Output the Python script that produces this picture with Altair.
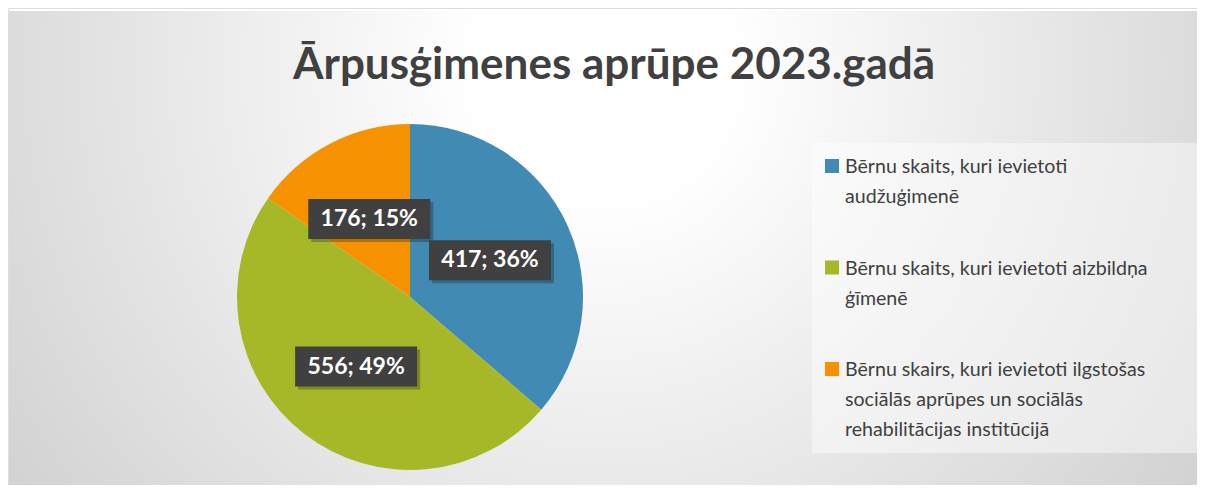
import math
import altair as alt
import pandas as pd

# ---- data ----
categories = [
    "Bērnu skaits, kuri ievietoti audžuģimenē",
    "Bērnu skaits, kuri ievietoti aizbildņa ģīmenē",
    "Bērnu skairs, kuri ievietoti ilgstošas sociālās aprūpes un sociālās rehabilitācijas institūcijā",
]
legend_lines = [
    ["Bērnu skaits, kuri ievietoti", "audžuģimenē"],
    ["Bērnu skaits, kuri ievietoti aizbildņa", "ģīmenē"],
    ["Bērnu skairs, kuri ievietoti ilgstošas", "sociālās aprūpes un sociālās", "rehabilitācijas institūcijā"],
]
values = [417, 556, 176]
percents = [36, 49, 15]
colors = ["#418AB3", "#A6B727", "#F69200"]
title_text = "Ārpusģimenes aprūpe 2023.gadā"

# ---- layout (chart coordinates = page - 8) ----
W, H = 1189, 477
CX, CY, R = 402, 289, 173
LABEL_R = 88
BOX_W, BOX_H = 122, 40

df = pd.DataFrame({"cat": categories, "value": values, "pct": percents, "idx": range(len(values))})
total = sum(values)
cum = 0.0
lx, ly = [], []
for v in values:
    mid = (cum + v / 2) / total * 2 * math.pi
    cum += v
    lx.append(CX + LABEL_R * math.sin(mid))
    ly.append(CY - LABEL_R * math.cos(mid))
df["lx"] = lx
df["ly"] = ly
df["bx1"] = df["lx"] - BOX_W / 2
df["bx2"] = df["lx"] + BOX_W / 2
df["by1"] = df["ly"] - BOX_H / 2
df["by2"] = df["ly"] + BOX_H / 2
df["sx1"] = df["bx1"] + 3
df["sx2"] = df["bx2"] + 3
df["sy1"] = df["by1"] + 3
df["sy2"] = df["by2"] + 3
df["label"] = [f"{v}; {p}%" for v, p in zip(values, percents)]

leg = pd.DataFrame({"cat": categories, "lines": legend_lines, "idx": range(len(values))})

color_scale = alt.Scale(domain=categories, range=colors)

bg = alt.Chart(pd.DataFrame({"a": [0]})).mark_rect(
    color=alt.Gradient(
        gradient="radial",
        x1=0.5, y1=0.35, r1=0.0,
        x2=0.5, y2=0.35, r2=0.72,
        stops=[alt.GradientStop(color="#ffffff", offset=0),
               alt.GradientStop(color="#ffffff", offset=0.15),
               alt.GradientStop(color="#c8c8c8", offset=1)],
    ),
).encode(x=alt.value(1), x2=alt.value(W), y=alt.value(3), y2=alt.value(H))

title = alt.Chart(pd.DataFrame({"t": [title_text]})).mark_text(
    font="Lato", fontWeight="bold", fontSize=44, color="#404040", baseline="middle", align="center"
).encode(x=alt.value(606), y=alt.value(58), text="t:N")

pie = alt.Chart(df).mark_arc(radius=R).encode(
    theta=alt.Theta("value:Q", stack=True),
    color=alt.Color("cat:N", scale=color_scale, legend=None),
    order=alt.Order("idx:Q"),
    x=alt.value(CX), y=alt.value(CY),
)

shadow = alt.Chart(df).mark_rect(color="#000000", opacity=0.25).encode(
    x=alt.X("sx1:Q", scale=None), x2="sx2:Q", y=alt.Y("sy1:Q", scale=None), y2="sy2:Q"
)
boxes = alt.Chart(df).mark_rect(color="#404040").encode(
    x=alt.X("bx1:Q", scale=None), x2="bx2:Q", y=alt.Y("by1:Q", scale=None), y2="by2:Q"
)
labels = alt.Chart(df).mark_text(
    font="Lato", fontWeight="bold", fontSize=23, color="#ffffff", baseline="middle", align="center"
).encode(x=alt.X("lx:Q", scale=None), y=alt.Y("ly:Q", scale=None), text="label:N")

legbox = alt.Chart(pd.DataFrame({"a": [0]})).mark_rect(color="#ffffff", opacity=0.45).encode(
    x=alt.value(804), x2=alt.value(1192), y=alt.value(135), y2=alt.value(445)
)

ypos = alt.Y("cat:N", sort=categories, scale=alt.Scale(type="point", range=[150, 353], padding=0), axis=None)
leg_sq = alt.Chart(leg).mark_square(size=196, opacity=1, yOffset=8).encode(
    x=alt.value(824), y=ypos,
    color=alt.Color("cat:N", scale=color_scale, legend=None),
)
leg_txt = alt.Chart(leg).mark_text(
    font="Lato", fontSize=19.6, color="#404040", align="left", baseline="top", lineHeight=30
).encode(x=alt.value(837), y=ypos, text="lines")

chart = alt.layer(bg, title, pie, shadow, boxes, labels, legbox, leg_sq, leg_txt).properties(
    width=W, height=H, padding=0, autosize=alt.AutoSizeParams(type="none")
).configure_view(stroke=None).configure(background="#ffffff")

chart.save("out.html", embed_options={"renderer": "svg", "actions": False})
